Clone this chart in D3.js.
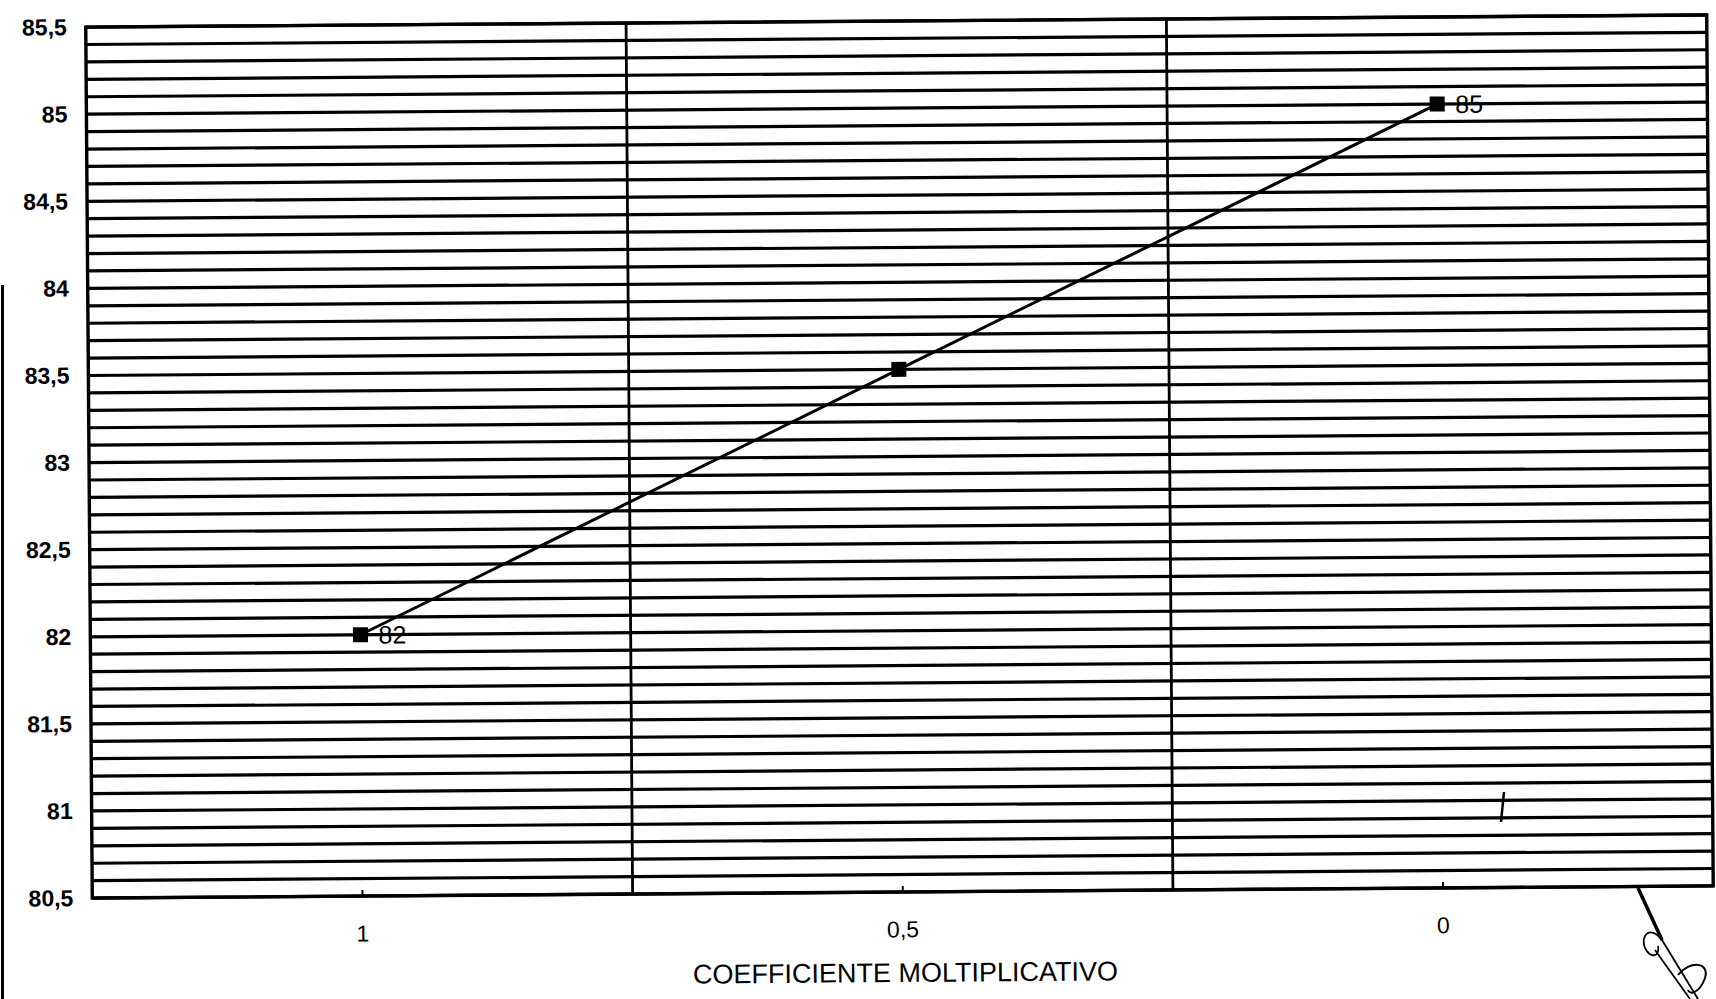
<!DOCTYPE html>
<html>
<head>
<meta charset="utf-8">
<title>Coefficiente moltiplicativo</title>
<script src="https://cdn.jsdelivr.net/npm/d3@7"></script>
<style>
  body { margin: 0; background: #fff; }
  svg { display: block; }
  text { font-family: "Liberation Sans", Arial, sans-serif; fill: #000; }
</style>
</head>
<body>
<svg id="chart" width="1716" height="999"></svg>
<script>
"use strict";

// values
const categories = ["1", "0,5", "0"];
const values = [82, 83.5, 85];
const pointLabels = ["82", "", "85"];
const yTicks = [80.5, 81, 81.5, 82, 82.5, 83, 83.5, 84, 84.5, 85, 85.5];
const yDomain = [80.5, 85.5];
const xTitle = "COEFFICIENTE MOLTIPLICATIVO";

const W = 1716, H = 999;
const plot = { left: 89, right: 1710, top: 21, bottom: 892 };

const svg = d3.select("#chart");
svg.append("rect").attr("width", W).attr("height", H).attr("fill", "#fff");

// the scan is slightly tilted, so the whole chart gets a small rotation
const root = svg.append("g").attr("transform", "rotate(-0.43, 899.5, 456.5)");

const x = d3.scaleBand().domain(categories).range([plot.left, plot.right]);
const y = d3.scaleLinear().domain(yDomain).range([plot.bottom, plot.top]);

// horizontal gridlines every 0,1
root.append("g")
  .selectAll("line")
  .data(y.ticks(50))
  .join("line")
  .attr("x1", plot.left).attr("x2", plot.right)
  .attr("y1", d => y(d)).attr("y2", d => y(d))
  .attr("stroke", "#000").attr("stroke-width", 3.2);

// vertical gridlines between categories
root.append("g")
  .selectAll("line")
  .data(categories.slice(1))
  .join("line")
  .attr("x1", d => x(d)).attr("x2", d => x(d))
  .attr("y1", plot.top).attr("y2", plot.bottom)
  .attr("stroke", "#000").attr("stroke-width", 2.8);

// plot frame
root.append("rect")
  .attr("x", plot.left).attr("y", plot.top)
  .attr("width", plot.right - plot.left).attr("height", plot.bottom - plot.top)
  .attr("fill", "none").attr("stroke", "#000").attr("stroke-width", 3.4);

// y axis labels
const yAxis = root.append("g")
  .attr("transform", `translate(${plot.left},0)`)
  .call(d3.axisLeft(y).tickValues(yTicks).tickSize(0).tickPadding(19)
    .tickFormat(d => String(d).replace(".", ",")));
yAxis.select(".domain").remove();
yAxis.selectAll("text")
  .attr("font-size", 23).attr("font-weight", "bold")
  .attr("font-family", "Liberation Sans, Arial, sans-serif");

// x axis, small ticks pointing into the plot
const xAxis = root.append("g")
  .attr("transform", `translate(0,${plot.bottom})`)
  .call(d3.axisBottom(x).tickSize(-6).tickPadding(29));
xAxis.select(".domain").remove();
xAxis.selectAll(".tick line").attr("stroke-width", 2);
xAxis.selectAll("text")
  .attr("font-size", 23)
  .attr("font-family", "Liberation Sans, Arial, sans-serif");

root.append("text")
  .attr("x", (plot.left + plot.right) / 2 + 2)
  .attr("y", 982)
  .attr("text-anchor", "middle")
  .attr("font-size", 27)
  .text(xTitle);

// the series
const pts = categories.map((c, i) => ({ c: c, v: values[i], label: pointLabels[i] }));
const cx = d => x(d.c) + x.bandwidth() / 2;

root.append("path")
  .datum(pts)
  .attr("fill", "none").attr("stroke", "#000").attr("stroke-width", 3)
  .attr("d", d3.line().x(cx).y(d => y(d.v)));

root.append("g")
  .selectAll("rect")
  .data(pts)
  .join("rect")
  .attr("x", d => cx(d) - 7.5).attr("y", d => y(d.v) - 7.5)
  .attr("width", 15).attr("height", 15)
  .attr("fill", "#000");

root.append("g")
  .selectAll("text")
  .data(pts.filter(d => d.label))
  .join("text")
  .attr("x", d => cx(d) + 18).attr("y", d => y(d.v))
  .attr("dy", "0.36em")
  .attr("font-size", 25)
  .text(d => d.label);

// scan leftovers: page edge and the signature
svg.append("line")
  .attr("x1", 2.5).attr("x2", 2.5).attr("y1", 285).attr("y2", H)
  .attr("stroke", "#000").attr("stroke-width", 3);

const sig = svg.append("g").attr("fill", "none").attr("stroke", "#000");
sig.append("path").attr("stroke-width", 3.5)
  .attr("d", "M1638,888 L1662,940");
sig.append("path").attr("stroke-width", 1.8)
  .attr("d", "M1662,940 L1698,999 M1655,950 L1690,999 M1662,940 C1650,925 1640,935 1645,948 C1650,958 1660,958 1658,946");
sig.append("path").attr("stroke-width", 2)
  .attr("d", "M1678,975 C1690,960 1710,962 1705,978 C1700,992 1690,996 1688,990");
sig.append("path").attr("stroke-width", 2.5)
  .attr("d", "M1504,792 L1501,822");
</script>
</body>
</html>
